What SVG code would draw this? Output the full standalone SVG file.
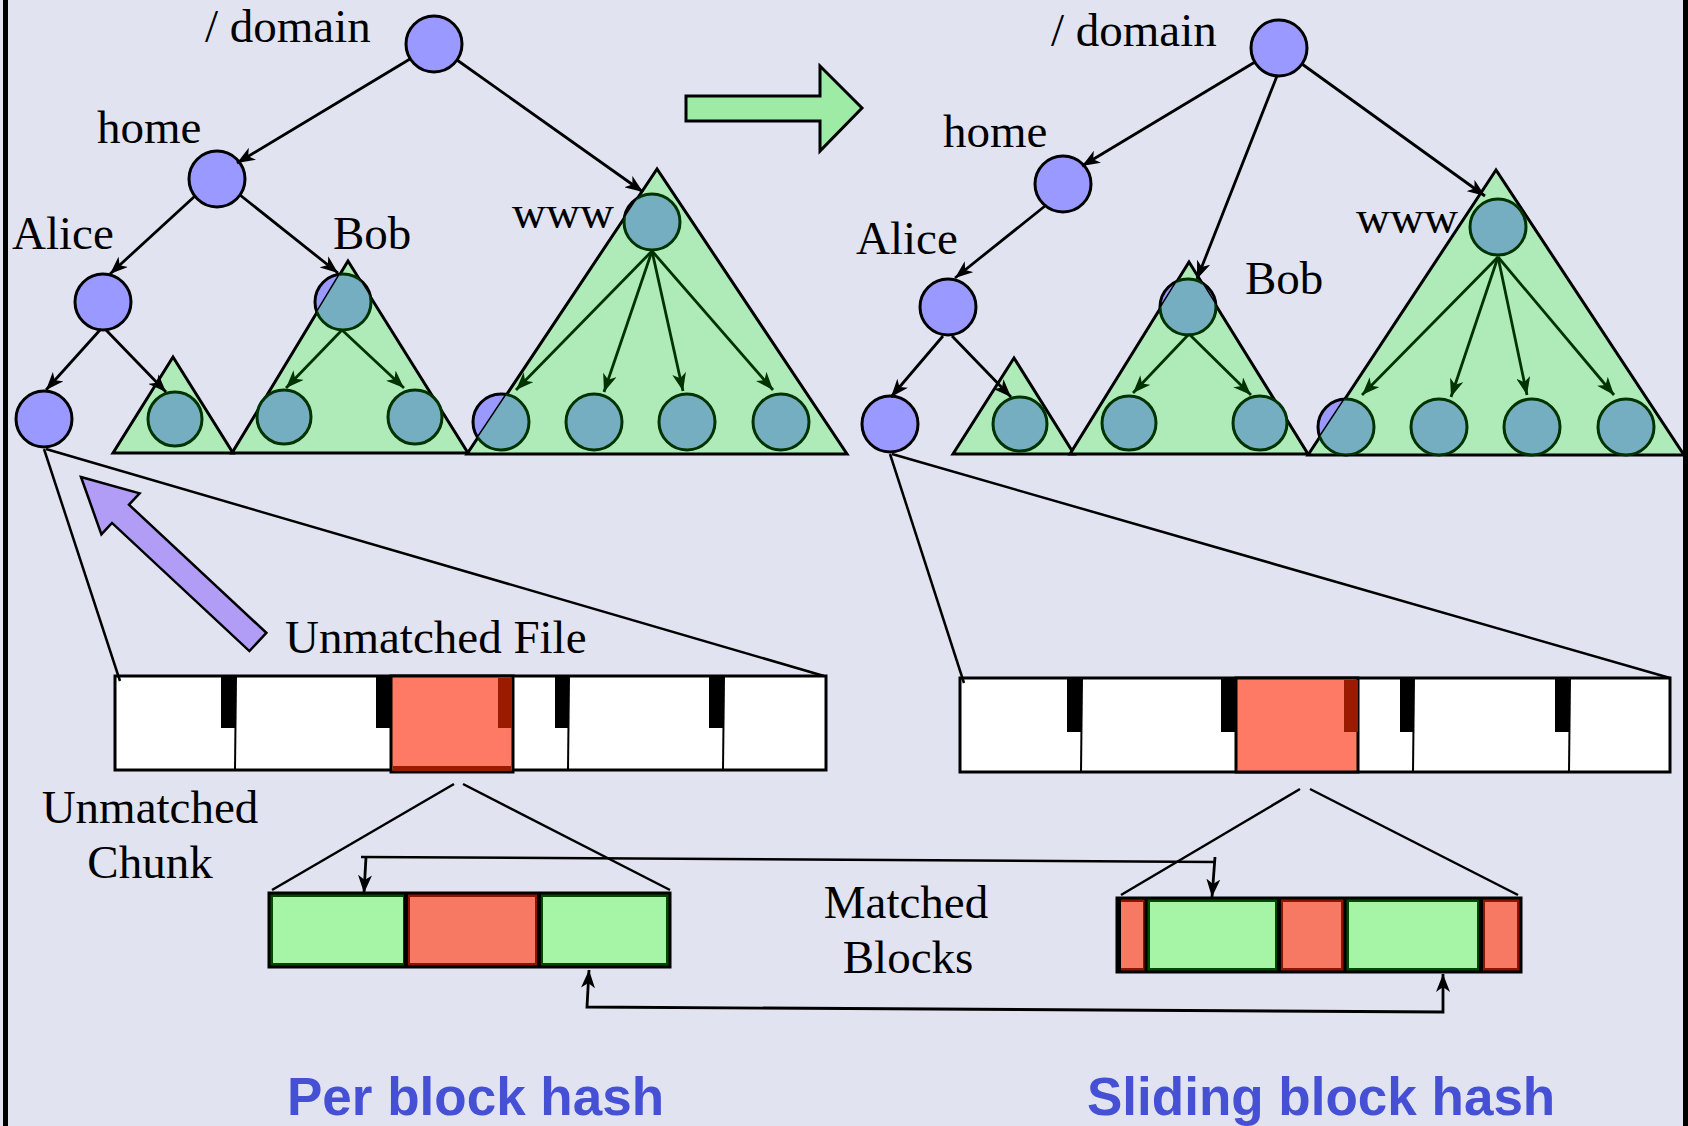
<svg xmlns="http://www.w3.org/2000/svg" width="1688" height="1126" viewBox="0 0 1688 1126">
<defs>
<style>
.pn{fill:#9999FF;stroke:#000;stroke-width:3}
.tn{fill:#74AEC0;stroke:#003300;stroke-width:3}
.tri{fill:#AFEBB9;stroke:#000;stroke-width:3;stroke-linejoin:miter}
.lbl{font-family:"Liberation Serif","Times New Roman",serif;font-size:47px;fill:#000}
.ttl{font-family:"Liberation Sans",Arial,sans-serif;font-size:53px;font-weight:bold;fill:#4550D5}
.e{fill:none;stroke:#000;stroke-width:2.8;marker-end:url(#ah)}
.eg{fill:none;stroke:#003300;stroke-width:2.8;marker-end:url(#ahg)}
.ln{fill:none;stroke:#000;stroke-width:2.5}
.bar{fill:#fff;stroke:#000;stroke-width:3}
.mk{fill:#000}
.dv{stroke:#000;stroke-width:2}
.red{fill:#FF7A64;stroke:#000;stroke-width:3}
.dred{fill:#9B1B00}
.gb{fill:#A6F4A6;stroke:#004A00;stroke-width:4}
.rb{fill:#F77964;stroke:#8B1500;stroke-width:4}
</style>
<marker id="ah" viewBox="0 0 18 14" refX="18" refY="7" markerWidth="18" markerHeight="14" markerUnits="userSpaceOnUse" orient="auto-start-reverse"><path d="M0,0 L18,7 L0,14 L5,7 z" fill="#000"/></marker>
<marker id="ahg" viewBox="0 0 18 14" refX="18" refY="7" markerWidth="18" markerHeight="14" markerUnits="userSpaceOnUse" orient="auto"><path d="M0,0 L18,7 L0,14 L5,7 z" fill="#003300"/></marker>
<clipPath id="cLs"><polygon points="173,357 113,453 233,453"/></clipPath>
<clipPath id="cLb"><polygon points="348,261 232,453 468,453"/></clipPath>
<clipPath id="cLw"><polygon points="657,169 467,454 847,454"/></clipPath>
<clipPath id="cRs"><polygon points="1014,358 953,454 1074,454"/></clipPath>
<clipPath id="cRb"><polygon points="1189,262 1070,454 1308,454"/></clipPath>
<clipPath id="cRw"><polygon points="1496,170 1308,455 1684,455"/></clipPath>
</defs>
<rect x="0" y="0" width="1688" height="1126" fill="#E1E4F0"/>
<rect x="3" y="0" width="5" height="1126" fill="#000"/>
<rect x="1683" y="0" width="5" height="1126" fill="#000"/>

<!-- LEFT TREE -->
<g id="L-root"><circle cx="434" cy="44" r="28" class="pn"/><text x="205" y="42" class="lbl">/ domain</text></g>
<g id="L-home"><circle cx="217" cy="179" r="28" class="pn"/><text x="97" y="143" class="lbl">home</text></g>
<g id="L-alice"><circle cx="103" cy="302" r="28" class="pn"/><text x="12" y="249" class="lbl">Alice</text></g>
<g id="L-file"><circle cx="44" cy="419" r="28" class="pn"/></g>
<g id="L-small">
<polygon points="173,357 113,453 233,453" class="tri"/>
<circle cx="175" cy="419" r="27" class="tn" clip-path="url(#cLs)"/>
</g>
<g id="L-bob">
<circle cx="343" cy="302" r="28" class="pn"/>
<polygon points="348,261 232,453 468,453" class="tri"/>
<g clip-path="url(#cLb)"><circle cx="343" cy="302" r="28" class="tn"/></g>
<circle cx="284" cy="417" r="27" class="tn"/>
<circle cx="415" cy="417" r="27" class="tn"/>
<text x="333" y="249" class="lbl">Bob</text>
</g>
<g id="L-www">
<circle cx="652" cy="222" r="28" class="pn"/>
<circle cx="501" cy="422" r="28" class="pn"/>
<polygon points="657,169 467,454 847,454" class="tri"/>
<g clip-path="url(#cLw)"><circle cx="652" cy="222" r="28" class="tn"/><circle cx="501" cy="422" r="28" class="tn"/></g>
<circle cx="594" cy="422" r="28" class="tn"/>
<circle cx="687" cy="422" r="28" class="tn"/>
<circle cx="781" cy="422" r="28" class="tn"/>
<text x="512" y="228" class="lbl">www</text>
</g>

<!-- RIGHT TREE -->
<g id="R-root"><circle cx="1279" cy="48" r="28" class="pn"/><text x="1051" y="46" class="lbl">/ domain</text></g>
<g id="R-home"><circle cx="1063" cy="184" r="28" class="pn"/><text x="943" y="147" class="lbl">home</text></g>
<g id="R-alice"><circle cx="948" cy="307" r="28" class="pn"/><text x="856" y="254" class="lbl">Alice</text></g>
<g id="R-file"><circle cx="890" cy="424" r="28" class="pn"/></g>
<g id="R-small">
<polygon points="1014,358 953,454 1074,454" class="tri"/>
<circle cx="1020" cy="424" r="27" class="tn" clip-path="url(#cRs)"/>
</g>
<g id="R-bob">
<circle cx="1188" cy="307" r="28" class="pn"/>
<polygon points="1189,262 1070,454 1308,454" class="tri"/>
<g clip-path="url(#cRb)"><circle cx="1188" cy="307" r="28" class="tn"/></g>
<circle cx="1129" cy="423" r="27" class="tn"/>
<circle cx="1260" cy="423" r="27" class="tn"/>
<text x="1245" y="294" class="lbl">Bob</text>
</g>
<g id="R-www">
<circle cx="1498" cy="227" r="28" class="pn"/>
<circle cx="1346" cy="427" r="28" class="pn"/>
<polygon points="1496,170 1308,455 1684,455" class="tri"/>
<g clip-path="url(#cRw)"><circle cx="1498" cy="227" r="28" class="tn"/><circle cx="1346" cy="427" r="28" class="tn"/></g>
<circle cx="1439" cy="427" r="28" class="tn"/>
<circle cx="1532" cy="427" r="28" class="tn"/>
<circle cx="1626" cy="427" r="28" class="tn"/>
<text x="1356" y="233" class="lbl">www</text>
</g>

<!-- transition arrow -->
<g id="green-arrow"><polygon points="686,96 820,96 820,66 862,108 820,151 820,121 686,121" fill="#9DEBA5" stroke="#000" stroke-width="3" stroke-linejoin="miter"/></g>

<!-- purple arrow + labels -->
<g id="unmatched-file-arrow"><polygon points="81,477 139.6,493.3 129,504.7 266.4,632.9 249.4,651.1 112,522.9 101.4,534.3" fill="#B19DF5" stroke="#000" stroke-width="2.5"/></g>
<g id="lbl-unmatched-file"><text x="285" y="653" class="lbl">Unmatched File</text></g>
<g id="lbl-unmatched-chunk"><text x="150" y="823" class="lbl" text-anchor="middle">Unmatched</text><text x="150" y="878" class="lbl" text-anchor="middle">Chunk</text></g>
<g id="lbl-matched-blocks"><text x="906" y="918" class="lbl" text-anchor="middle">Matched</text><text x="908" y="973" class="lbl" text-anchor="middle">Blocks</text></g>

<!-- LEFT FILE BAR -->
<g id="L-bar">
<rect x="115" y="676" width="711" height="94" class="bar"/>
<rect x="391" y="676" width="122" height="96" class="red"/>
<rect x="393" y="766" width="118" height="5" fill="#9B1B00"/>
<rect x="498" y="678" width="14" height="50" class="dred"/>
<rect x="221" y="676" width="15" height="52" class="mk"/>
<rect x="376" y="676" width="15" height="52" class="mk"/>
<rect x="555" y="676" width="14" height="52" class="mk"/>
<rect x="709" y="676" width="15" height="52" class="mk"/>
<line x1="236" y1="676" x2="235" y2="770" class="dv"/>
<line x1="569" y1="676" x2="568" y2="770" class="dv"/>
<line x1="724" y1="676" x2="723" y2="770" class="dv"/>
</g>

<!-- RIGHT FILE BAR -->
<g id="R-bar">
<rect x="960" y="678" width="710" height="94" class="bar"/>
<rect x="1236" y="678" width="122" height="94" class="red"/>
<rect x="1344" y="680" width="14" height="52" class="dred"/>
<rect x="1067" y="678" width="15" height="54" class="mk"/>
<rect x="1221" y="678" width="15" height="54" class="mk"/>
<rect x="1400" y="678" width="14" height="54" class="mk"/>
<rect x="1555" y="678" width="15" height="54" class="mk"/>
<line x1="1082" y1="678" x2="1081" y2="772" class="dv"/>
<line x1="1414" y1="678" x2="1413" y2="772" class="dv"/>
<line x1="1570" y1="678" x2="1569" y2="772" class="dv"/>
</g>

<!-- LEFT BLOCKS -->
<g id="L-blocks">
<rect x="271" y="895" width="134" height="70" class="gb"/>
<rect x="408" y="895" width="129" height="70" class="rb"/>
<rect x="541" y="895" width="127" height="70" class="gb"/>
<rect x="269" y="893" width="401" height="74" fill="none" stroke="#000" stroke-width="3"/>
<line x1="406" y1="893" x2="406" y2="967" stroke="#000" stroke-width="4"/>
<line x1="539" y1="893" x2="539" y2="967" stroke="#000" stroke-width="4"/>
</g>

<!-- RIGHT BLOCKS -->
<g id="R-blocks">
<rect x="1119" y="900" width="26" height="70" class="rb"/>
<rect x="1148" y="900" width="129" height="70" class="gb"/>
<rect x="1281" y="900" width="62" height="70" class="rb"/>
<rect x="1347" y="900" width="132" height="70" class="gb"/>
<rect x="1483" y="900" width="36" height="70" class="rb"/>
<rect x="1117" y="898" width="404" height="74" fill="none" stroke="#000" stroke-width="3"/>
<rect x="1116" y="898" width="5" height="74" fill="#000"/>
<line x1="1146" y1="898" x2="1146" y2="972" stroke="#000" stroke-width="3"/>
<line x1="1279" y1="898" x2="1279" y2="972" stroke="#000" stroke-width="4"/>
<line x1="1345" y1="898" x2="1345" y2="972" stroke="#000" stroke-width="3"/>
<line x1="1481" y1="898" x2="1481" y2="972" stroke="#000" stroke-width="4"/>
</g>

<!-- CONNECTORS -->
<g id="connectors">
<path class="e" d="M410,59 L237,163"/>
<path class="e" d="M457,60 L643,192"/>
<path class="e" d="M195,196 L110,274"/>
<path class="e" d="M240,195 L338,273"/>
<path class="e" d="M100,330 L46,390"/>
<path class="e" d="M106,330 L166,392"/>
<path class="eg" d="M342,330 L286,388"/>
<path class="eg" d="M342,330 L404,388"/>
<path class="eg" d="M652,251 L516,390"/>
<path class="eg" d="M652,251 L604,392"/>
<path class="eg" d="M652,251 L683,391"/>
<path class="eg" d="M652,251 L773,390"/>

<path class="e" d="M1255,62 L1082,166"/>
<path class="e" d="M1277,76 L1197,279"/>
<path class="e" d="M1302,64 L1485,196"/>
<path class="e" d="M1045,206 L955,278"/>
<path class="e" d="M943,336 L891,397"/>
<path class="e" d="M952,336 L1011,397"/>
<path class="eg" d="M1189,334 L1133,393"/>
<path class="eg" d="M1189,334 L1251,395"/>
<path class="eg" d="M1498,257 L1362,395"/>
<path class="eg" d="M1498,257 L1451,397"/>
<path class="eg" d="M1498,257 L1527,395"/>
<path class="eg" d="M1498,257 L1614,395"/>

<path class="ln" d="M44,449 L120,681"/>
<path class="ln" d="M46,449 L824,676"/>
<path class="ln" d="M890,454 L964,683"/>
<path class="ln" d="M892,454 L1670,678"/>

<path class="ln" d="M454,784 L272,890"/>
<path class="ln" d="M463,784 L670,890"/>
<path class="ln" d="M1300,789 L1121,895"/>
<path class="ln" d="M1310,789 L1518,895"/>

<path class="ln" d="M361,857 L1215,862"/>
<path class="e" d="M366,857 L364,893"/>
<path class="e" d="M1215,857 L1212,897"/>
<path class="e" style="marker-start:url(#ah)" d="M589,970 L587,1007 L1443,1012 L1443,974"/>
</g>

<g id="titles">
<text x="287" y="1115" class="ttl">Per block hash</text>
<text x="1087" y="1115" class="ttl">Sliding block hash</text>
</g>
</svg>
